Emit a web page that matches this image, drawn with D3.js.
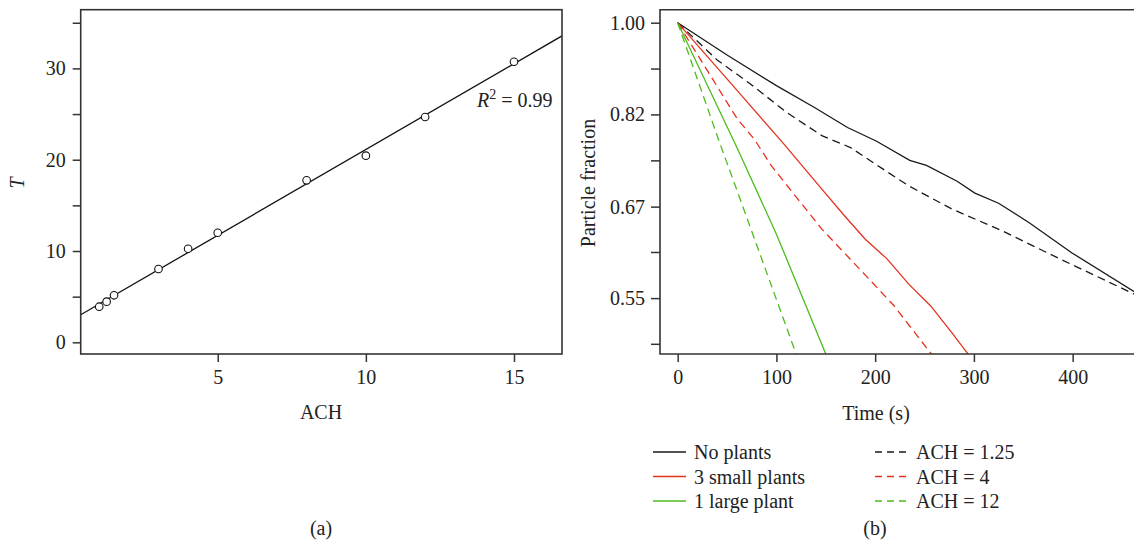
<!DOCTYPE html>
<html>
<head>
<meta charset="utf-8">
<script src="https://cdn.jsdelivr.net/npm/d3@7"></script>
<style>
    body { margin: 0; background: #fff; }
    text { font-family: 'Liberation Serif', 'Times New Roman', serif; fill: #222; }
</style>
</head>
<body>
<div id="chart"></div>
<script>
// panel (a): decay time vs air changes
const achValues = [1, 1.25, 1.5, 3, 4, 5, 8, 10, 12, 15];
const tValues = [3.9, 4.45, 5.15, 8.03, 10.25, 12.0, 17.74, 20.44, 24.68, 30.73];
const leftYTicks = [0, 5, 10, 15, 20, 25, 30, 35];
const leftXTicks = [5, 10, 15];
const r2Label = '0.99';

// panel (b): particle fraction vs time
const noPlantsTime = [0, 50, 100, 139, 172, 201, 235, 252, 283, 301, 325, 356, 399, 462, 470];
const noPlantsFrac = [1, 0.932, 0.872, 0.831, 0.796, 0.773, 0.741, 0.733, 0.708, 0.690, 0.675, 0.647, 0.606, 0.557, 0.551];
const smallPlantsTime = [0, 63, 107, 146, 170, 190, 212, 234, 256, 277, 293, 300];
const smallPlantsFrac = [1, 0.857, 0.769, 0.696, 0.655, 0.624, 0.598, 0.566, 0.540, 0.510, 0.4875, 0.478];
const largePlantTime = [0, 60, 100, 150, 155];
const largePlantFrac = [1, 0.762, 0.631, 0.486, 0.475];
const ach125Time = [0, 40, 73, 110, 146, 175, 208, 234, 277, 328, 387, 462, 470];
const ach125Frac = [1, 0.922, 0.876, 0.823, 0.782, 0.762, 0.727, 0.701, 0.667, 0.636, 0.598, 0.554, 0.550];
const ach4Time = [0, 60, 78, 95, 146, 194, 219, 257, 265];
const ach4Frac = [1, 0.812, 0.775, 0.732, 0.638, 0.572, 0.540, 0.486, 0.475];
const ach12Time = [0, 41, 63, 120, 125];
const ach12Frac = [1, 0.777, 0.682, 0.486, 0.472];
const rightXTicks = [0, 100, 200, 300, 400];
const rightYTicks = [1, 0.905, 0.819, 0.741, 0.670, 0.607, 0.549, 0.497];
const rightYLabels = ['1.00', '', '0.82', '', '0.67', '', '0.55', ''];

const seriesNames = ['No plants', '3 small plants', '1 large plant', 'ACH = 1.25', 'ACH = 4', 'ACH = 12'];
const seriesColors = ['#1a1a1a', '#e5321e', '#4cbc1c', '#1a1a1a', '#e5321e', '#4cbc1c'];
const seriesDashed = [false, false, false, true, true, true];
const seriesTimes = [noPlantsTime, smallPlantsTime, largePlantTime, ach125Time, ach4Time, ach12Time];
const seriesFracs = [noPlantsFrac, smallPlantsFrac, largePlantFrac, ach125Frac, ach4Frac, ach12Frac];

const width = 1134;
const height = 543;
const axisColor = '#333';

const svg = d3
    .select('#chart')
    .append('svg')
    .attr('width', width)
    .attr('height', height);

svg.append('rect').attr('width', width).attr('height', height).attr('fill', '#fff');

function styleAxis(g) {
    g.select('.domain').remove();
    g.selectAll('.tick line').attr('stroke', axisColor).attr('stroke-width', 1.5);
    g.selectAll('.tick text')
        .attr('fill', '#222')
        .style('font-size', '20px')
        .style('font-family', "'Liberation Serif', 'Times New Roman', serif");
}

// ---------- panel (a)
const xa = d3.scaleLinear().domain([0.375, 16.62]).range([80.7, 562]);
const ya = d3.scaleLinear().domain([-1.28, 36.43]).range([354, 9.7]);

svg.append('g')
    .attr('transform', 'translate(0,354)')
    .call(d3.axisBottom(xa).tickValues(leftXTicks).tickSize(8).tickPadding(8))
    .call(styleAxis);

svg.append('g')
    .attr('transform', 'translate(80.7,0)')
    .call(
        d3.axisLeft(ya)
            .tickValues(leftYTicks)
            .tickFormat(d => (d % 10 === 0 ? d : ''))
            .tickSize(8)
            .tickPadding(7)
    )
    .call(styleAxis);

svg.append('clipPath')
    .attr('id', 'clipA')
    .append('rect')
    .attr('x', xa.range()[0])
    .attr('y', ya.range()[1])
    .attr('width', xa.range()[1] - xa.range()[0])
    .attr('height', ya.range()[0] - ya.range()[1]);

// least squares fit of T on ACH
const meanX = d3.mean(achValues);
const meanY = d3.mean(tValues);
const slope =
    d3.sum(achValues, (x, i) => (x - meanX) * (tValues[i] - meanY)) /
    d3.sum(achValues, x => (x - meanX) * (x - meanX));
const intercept = meanY - slope * meanX;
const fitX = xa.domain();

svg.append('line')
    .attr('clip-path', 'url(#clipA)')
    .attr('x1', xa(fitX[0]))
    .attr('y1', ya(intercept + slope * fitX[0]))
    .attr('x2', xa(fitX[1]))
    .attr('y2', ya(intercept + slope * fitX[1]))
    .attr('stroke', '#111')
    .attr('stroke-width', 1.3);

svg.append('g')
    .selectAll('circle')
    .data(achValues)
    .enter()
    .append('circle')
    .attr('cx', d => xa(d))
    .attr('cy', (d, i) => ya(tValues[i]))
    .attr('r', 3.8)
    .attr('fill', '#fff')
    .attr('stroke', '#111')
    .attr('stroke-width', 1.1);

svg.append('rect')
    .attr('x', xa.range()[0])
    .attr('y', ya.range()[1])
    .attr('width', xa.range()[1] - xa.range()[0])
    .attr('height', ya.range()[0] - ya.range()[1])
    .attr('fill', 'none')
    .attr('stroke', axisColor)
    .attr('stroke-width', 1.6);

const r2 = svg.append('text').attr('x', 477).attr('y', 107).style('font-size', '20px');
r2.append('tspan').style('font-style', 'italic').text('R');
r2.append('tspan').attr('dy', -8).style('font-size', '14px').text('2');
r2.append('tspan').attr('dy', 8).text(' = ' + r2Label);

svg.append('text')
    .attr('transform', 'translate(17,183) rotate(-90)')
    .attr('text-anchor', 'middle')
    .attr('dominant-baseline', 'central')
    .style('font-size', '20px')
    .style('font-style', 'italic')
    .text('T');

svg.append('text')
    .attr('x', 321)
    .attr('y', 412)
    .attr('text-anchor', 'middle')
    .attr('dominant-baseline', 'central')
    .style('font-size', '20px')
    .text('ACH');

svg.append('text')
    .attr('x', 321)
    .attr('y', 528)
    .attr('text-anchor', 'middle')
    .attr('dominant-baseline', 'central')
    .style('font-size', '20px')
    .text('(a)');

// ---------- panel (b)
const xb = d3.scaleLinear().domain([-17.9, 468.2]).range([660, 1140]);
const yb = d3.scaleLog().domain([0.4861, 1.0287]).range([354, 9.7]);

svg.append('g')
    .attr('transform', 'translate(0,354)')
    .call(d3.axisBottom(xb).tickValues(rightXTicks).tickSize(8).tickPadding(8))
    .call(styleAxis);

svg.append('g')
    .attr('transform', 'translate(660,0)')
    .call(
        d3.axisLeft(yb)
            .tickValues(rightYTicks)
            .tickFormat((d, i) => rightYLabels[i])
            .tickSize(9)
            .tickPadding(6)
    )
    .call(styleAxis);

svg.append('clipPath')
    .attr('id', 'clipB')
    .append('rect')
    .attr('x', xb.range()[0])
    .attr('y', yb.range()[1])
    .attr('width', xb.range()[1] - xb.range()[0])
    .attr('height', yb.range()[0] - yb.range()[1]);

const line = d3
    .line()
    .x(d => xb(d[0]))
    .y(d => yb(d[1]));

const order = [3, 4, 5, 0, 1, 2];
svg.append('g')
    .attr('clip-path', 'url(#clipB)')
    .selectAll('path')
    .data(order)
    .enter()
    .append('path')
    .attr('d', k => line(seriesTimes[k].map((t, i) => [t, seriesFracs[k][i]])))
    .attr('fill', 'none')
    .attr('stroke', k => seriesColors[k])
    .attr('stroke-width', 1.3)
    .attr('stroke-dasharray', k => (seriesDashed[k] ? '8,5' : null));

svg.append('path')
    .attr('d', 'M' + xb.range()[1] + ',' + yb.range()[1] +
        'H' + xb.range()[0] + 'V' + yb.range()[0] + 'H' + xb.range()[1])
    .attr('fill', 'none')
    .attr('stroke', axisColor)
    .attr('stroke-width', 1.6);

svg.append('text')
    .attr('transform', 'translate(588,183) rotate(-90)')
    .attr('text-anchor', 'middle')
    .attr('dominant-baseline', 'central')
    .style('font-size', '20px')
    .text('Particle fraction');

svg.append('text')
    .attr('x', 876)
    .attr('y', 413)
    .attr('text-anchor', 'middle')
    .attr('dominant-baseline', 'central')
    .style('font-size', '20px')
    .text('Time (s)');

svg.append('text')
    .attr('x', 875)
    .attr('y', 528)
    .attr('text-anchor', 'middle')
    .attr('dominant-baseline', 'central')
    .style('font-size', '20px')
    .text('(b)');

// legend, two columns of three
const legend = svg
    .append('g')
    .selectAll('g')
    .data(seriesNames)
    .enter()
    .append('g')
    .attr('transform', (d, i) =>
        'translate(' + (i < 3 ? 653 : 875) + ',' + (452 + (i % 3) * 24.5) + ')');

legend.append('line')
    .attr('x1', 0)
    .attr('x2', 33)
    .attr('stroke', (d, i) => seriesColors[i])
    .attr('stroke-width', 1.3)
    .attr('stroke-dasharray', (d, i) => (seriesDashed[i] ? '7,5' : null));

legend.append('text')
    .attr('x', 41)
    .attr('dominant-baseline', 'central')
    .style('font-size', '20px')
    .text(d => d);
</script>
</body>
</html>
